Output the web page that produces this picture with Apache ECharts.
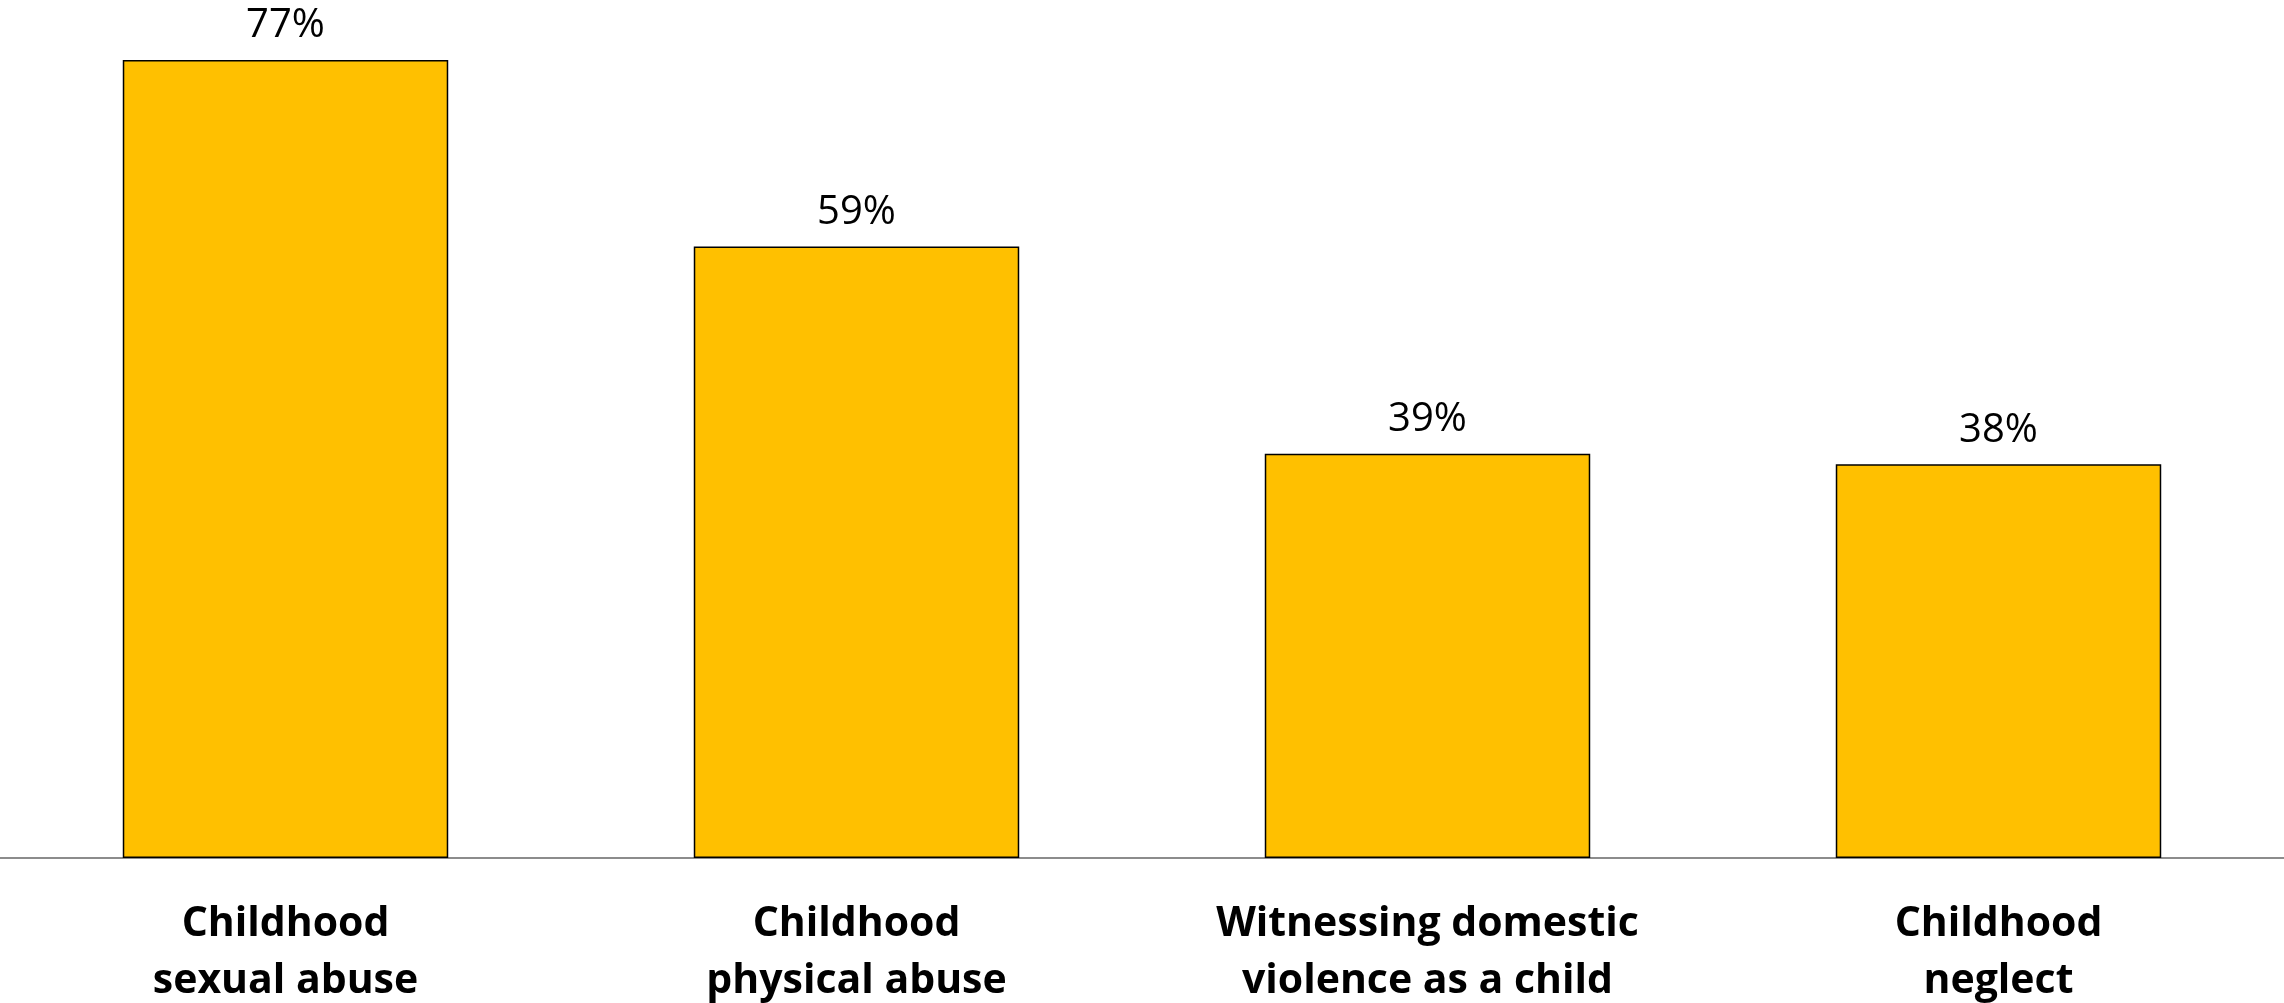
<!DOCTYPE html>
<html><head><meta charset="utf-8">
<script src="https://cdn.jsdelivr.net/npm/echarts@6/dist/echarts.min.js"></script>
<style>html,body{margin:0;padding:0;background:#fff}#c{width:2284px;height:1003px}</style>
</head><body><div id="c"></div>
<script>
var categories = ['Childhood\nsexual abuse', 'Childhood\nphysical abuse', 'Witnessing domestic\nviolence as a child', 'Childhood\nneglect'];
var values = [77, 59, 39, 38];

var chart = echarts.init(document.getElementById('c'));
chart.setOption({
  animation: false,
  grid: {left: 0, right: 0, top: 60, bottom: 145, containLabel: false, outerBoundsMode: 'none'},
  xAxis: {
    type: 'category', data: categories,
    axisLine: {lineStyle: {color: '#8c8c8c', width: 2}},
    axisTick: {show: false},
    axisLabel: {fontFamily: 'Open Sans', fontWeight: 'bold', fontSize: 41, color: '#000', lineHeight: 57, margin: 38, interval: 0}
  },
  yAxis: {type: 'value', min: 0, max: 77, show: false, splitLine: {show: false}},
  series: [{
    type: 'bar', data: values, barWidth: '57%',
    itemStyle: {color: '#FFC000', borderColor: '#000', borderWidth: 1.5},
    label: {show: true, position: 'top', distance: 14, formatter: '{c}%', fontFamily: 'Open Sans', fontSize: 40, color: '#000'}
  }]
});
</script></body></html>
